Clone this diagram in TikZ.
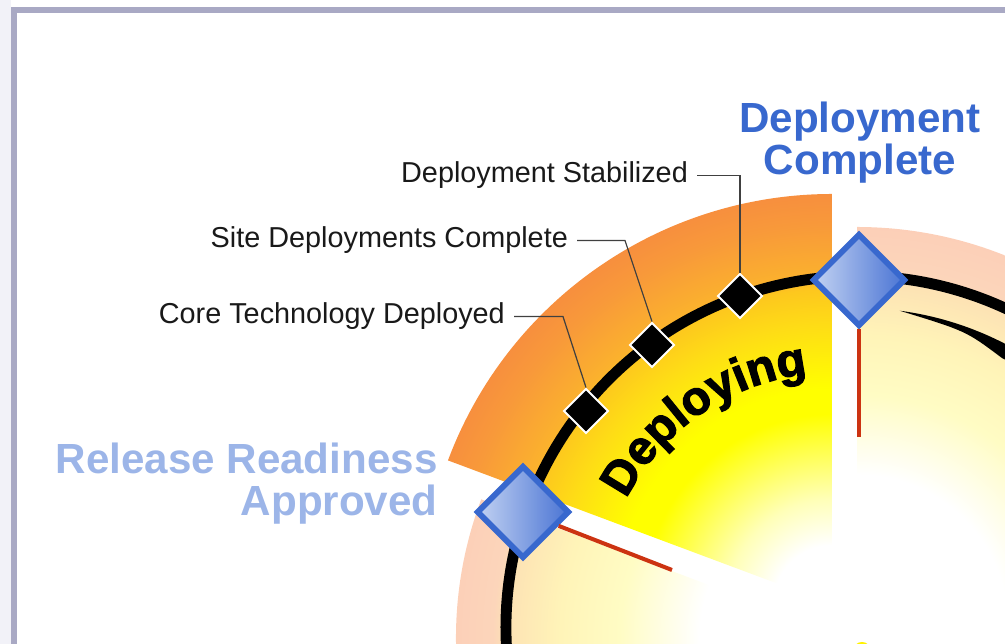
\documentclass[tikz,border=0pt]{standalone}
\usepackage{fontspec}
\setmainfont{Liberation Sans}
\newfontfamily\deployfont{Liberation Sans}[BoldFeatures={FakeBold=2.5}]
\usetikzlibrary{shapes.geometric,decorations.text}

\definecolor{framegray}{HTML}{A9A9C4}
\definecolor{framepale}{HTML}{F2F2F8}
\definecolor{msblue}{HTML}{3868CE}
\definecolor{readyblue}{HTML}{9CB5E8}
\definecolor{diamondlight}{HTML}{C2D2F2}
\definecolor{diamonddark}{HTML}{4A74D4}
\definecolor{edgered}{HTML}{CC3311}
\definecolor{paleyellow}{HTML}{FFFFB8}
\definecolor{ringyellow}{HTML}{FEDC16}
\definecolor{deepyellow}{HTML}{FDC71E}
\definecolor{lightorange}{HTML}{FBB22D}
\definecolor{midorange}{HTML}{F8993A}
\definecolor{darkorange}{HTML}{F78F3E}
\definecolor{creamyellow}{HTML}{FFFCC4}
\definecolor{cream}{HTML}{FFF4B8}
\definecolor{peach}{HTML}{FDE2B4}
\definecolor{pinkband}{HTML}{FCD5BA}
\definecolor{pinkouter}{HTML}{FCCFB8}

\pgfdeclareradialshading{deployshade}{\pgfpoint{0bp}{0bp}}{%
  color(0bp)=(white); color(3.5bp)=(white); color(6.25bp)=(paleyellow);
  color(11.3bp)=(yellow); color(12.8bp)=(yellow); color(16.65bp)=(ringyellow);
  color(18.75bp)=(deepyellow); color(19.35bp)=(lightorange); color(22.6bp)=(midorange);
  color(24.4bp)=(darkorange); color(50bp)=(darkorange)}
\pgfdeclareradialshading{outershade}{\pgfpoint{0bp}{0bp}}{%
  color(0bp)=(white); color(8.95bp)=(white); color(13.7bp)=(creamyellow);
  color(17.25bp)=(cream); color(20.5bp)=(peach); color(21.25bp)=(pinkband);
  color(23.75bp)=(pinkouter); color(50bp)=(pinkouter)}

\begin{document}
\begin{tikzpicture}[x=0.02cm, y=0.02cm,
  bigms/.style={diamond, draw=msblue, line width=3.4pt, left color=diamondlight, right color=diamonddark, minimum size=1.86cm, inner sep=0pt},
  smallms/.style={diamond, draw=white, line width=1.1pt, fill=black, minimum size=0.9cm, inner sep=0pt},
  milestone/.style={font=\fontsize{16.4pt}{19pt}\selectfont, text=black!90, inner xsep=5pt, inner ysep=0pt},
  bigmilestone/.style={font=\fontsize{24pt}{23.8pt}\selectfont\bfseries, inner sep=0pt},
  leader/.style={draw=black!75, line width=0.7pt},
  edgeline/.style={draw=edgered, line width=2.3pt},
  ring/.style={line width=6.2pt}]

\useasboundingbox (0,0) rectangle (1005,644);
\clip (0,0) rectangle (1005,644);

\fill[framepale] (0,0) rectangle (11,644);

\begin{scope}[shift={(850,6)}]
\clip (0,0) -- (159.4:394) arc[start angle=159.4, end angle=240, radius=394] -- cycle;
\shade[shading=outershade] (0,0) circle[radius=420];
\end{scope}

\begin{scope}[shift={(857,19)}]
\clip (0,0) -- (90:398) arc[start angle=90, end angle=10, radius=398] -- cycle;
\shade[shading=outershade] (0,0) circle[radius=420];
\end{scope}

\begin{scope}[shift={(832,40)}]
\clip (0,0) -- (90:410) arc[start angle=90, end angle=159.5, radius=410] -- cycle;
\shade[shading=deployshade] (0,0) circle[radius=420];
\end{scope}

\begin{scope}[shift={(858,16)}]
\draw[ring] (190:352) arc[start angle=190, end angle=20, radius=352];
\fill (82.5:320) arc[start angle=82.5, end angle=40, radius=320] -- (40:306) arc[start angle=40, end angle=62, radius=306] .. controls (70:316) .. (82.5:320) -- cycle;
\end{scope}

\fill[yellow] (862,-7) circle[radius=9];

\draw[framegray, line width=0.12cm] (13.9,-10) -- (13.9,634.3) -- (1015,634.3);

\node[bigms] (1) at (523,132) {};
\node[bigms] (2) at (859,364) {};
\node[smallms] (3) at (586,233) {};
\node[smallms] (4) at (652,299) {};
\node[smallms] (5) at (740,348) {};

\coordinate (r1) at (859,207);
\coordinate (r2) at (672,74);
\draw[edgeline] (2) -- (r1);
\draw[edgeline] (1) -- (r2);

\node[milestone, anchor=base east] (6) at (514,320) {Core Technology Deployed};
\node[milestone, anchor=base east] (7) at (577,396) {Site Deployments Complete};
\node[milestone, anchor=base east] (8) at (697,461) {Deployment Stabilized};

\coordinate (k6) at (563,0);
\coordinate (k7) at (625,0);
\draw[leader] (6.east) -- (6.east -| k6) -- (3.north);
\draw[leader] (7.east) -- (7.east -| k7) -- (4.north);
\draw[leader] (8.east) -| (5.north);

\node[bigmilestone, text=msblue, align=center] (9) at (860,501) {Deployment\\Complete};
\node[bigmilestone, text=readyblue, align=right, anchor=east] (10) at (438,160) {Release Readiness\\Approved};

\begin{scope}[shift={(832,40)}]
\path[decorate, decoration={text along path, text align=center, text={|\deployfont\bfseries\fontsize{27pt}{27pt}\selectfont|Deploying}}] (172:231) arc[start angle=172, end angle=77, radius=231];
\end{scope}

\end{tikzpicture}
\end{document}
